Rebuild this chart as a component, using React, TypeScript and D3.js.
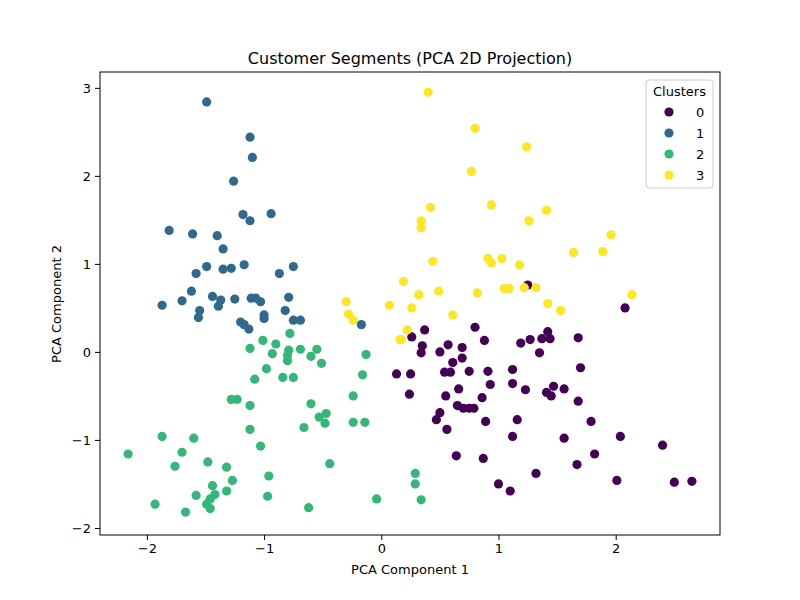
import * as d3 from "d3";
import { useEffect, useRef } from "react";

// [pc1, pc2] per cluster
const cluster0 = [
  [2.08, 0.5], [0.37, 0.25], [0.26, 0.17], [0.8, 0.28], [0.88, 0.13], [0.35, 0.07], [0.34, -0.01],
  [0.57, 0.08], [0.69, 0.05], [0.5, 0.0], [0.69, -0.07], [0.61, -0.12], [1.42, 0.23], [1.37, 0.15],
  [1.44, 0.15], [1.27, 0.14], [1.19, 0.1], [1.35, -0.01], [1.68, 0.16], [1.7, -0.18], [0.13, -0.25],
  [0.25, -0.25], [0.54, -0.23], [0.59, -0.23], [0.75, -0.22], [0.91, -0.22], [1.12, -0.2], [1.12, -0.36],
  [0.93, -0.37], [0.66, -0.42], [1.23, -0.43], [1.47, -0.39], [1.41, -0.46], [1.45, -0.5], [1.56, -0.42],
  [0.24, -0.48], [0.55, -0.5], [0.86, -0.52], [1.68, -0.56], [0.65, -0.61], [0.7, -0.64], [0.75, -0.64],
  [0.79, -0.64], [0.5, -0.69], [0.47, -0.77], [0.56, -0.88], [0.89, -0.79], [1.16, -0.77], [1.79, -0.79],
  [1.12, -0.96], [1.56, -0.98], [2.04, -0.96], [2.4, -1.06], [0.64, -1.18], [0.87, -1.21], [1.82, -1.16],
  [1.67, -1.28], [1.32, -1.38], [1.0, -1.5], [1.1, -1.58], [2.01, -1.46], [2.5, -1.48], [2.65, -1.47],
  [1.25, 0.76],
];
const cluster1 = [
  [-1.49, 2.84], [-1.12, 2.44], [-1.1, 2.21], [-1.26, 1.94], [-1.18, 1.56], [-1.12, 1.49], [-0.94, 1.57],
  [-1.81, 1.38], [-1.61, 1.34], [-1.4, 1.32], [-1.35, 1.17], [-1.49, 0.97], [-1.58, 0.89], [-1.35, 0.94],
  [-1.28, 0.95], [-1.17, 0.99], [-0.87, 0.89], [-0.75, 0.97], [-1.62, 0.69], [-1.7, 0.58], [-1.87, 0.53],
  [-1.44, 0.63], [-1.37, 0.59], [-1.25, 0.6], [-1.11, 0.61], [-1.07, 0.61], [-1.03, 0.57], [-0.79, 0.62],
  [-1.55, 0.47], [-1.56, 0.39], [-1.39, 0.52], [-1.0, 0.42], [-1.0, 0.38], [-0.82, 0.47], [-1.2, 0.34],
  [-1.17, 0.31], [-1.13, 0.26], [-0.75, 0.36], [-0.69, 0.36], [-0.17, 0.31],
];
const cluster2 = [
  [-0.78, 0.21], [-1.01, 0.13], [-0.9, 0.09], [-1.12, 0.04], [-0.93, -0.02], [-0.79, 0.02], [-0.8, -0.04],
  [-0.8, -0.1], [-0.69, 0.03], [-0.55, 0.03], [-0.6, -0.05], [-0.51, -0.13], [-0.13, -0.03], [-0.98, -0.19],
  [-1.08, -0.31], [-0.84, -0.29], [-0.75, -0.29], [-0.16, -0.26], [-0.24, -0.5], [-1.28, -0.54], [-1.23, -0.54],
  [-1.12, -0.61], [-0.6, -0.59], [-0.47, -0.7], [-0.53, -0.74], [-0.48, -0.81], [-0.66, -0.86], [-0.24, -0.8],
  [-0.14, -0.8], [-1.12, -0.88], [-1.03, -1.07], [-1.87, -0.96], [-1.6, -0.98], [-2.16, -1.16], [-1.7, -1.14],
  [-1.76, -1.3], [-1.48, -1.25], [-1.32, -1.31], [-0.44, -1.27], [-0.96, -1.41], [-1.27, -1.46], [-1.44, -1.52],
  [-1.32, -1.58], [-1.58, -1.63], [-1.42, -1.62], [-1.46, -1.67], [-1.49, -1.73], [-1.46, -1.78], [-0.97, -1.64],
  [-1.93, -1.73], [-1.67, -1.82], [-0.62, -1.77], [-0.04, -1.67], [0.29, -1.38], [0.29, -1.5], [0.34, -1.68],
];
const cluster3 = [
  [0.4, 2.95], [0.8, 2.54], [1.24, 2.33], [0.77, 2.05], [0.42, 1.64], [0.94, 1.67], [1.41, 1.61], [0.34, 1.49],
  [0.34, 1.41], [1.26, 1.49], [1.96, 1.33], [1.64, 1.13], [1.89, 1.14], [0.44, 1.03], [0.91, 1.06], [0.94, 1.01],
  [1.03, 1.06], [1.18, 0.99], [0.19, 0.8], [0.32, 0.65], [0.49, 0.69], [0.82, 0.67], [1.05, 0.72], [1.09, 0.72],
  [1.22, 0.73], [1.32, 0.73], [2.14, 0.65], [0.07, 0.53], [0.26, 0.5], [0.61, 0.42], [1.42, 0.55], [1.53, 0.47],
  [-0.3, 0.57], [-0.28, 0.43], [-0.24, 0.36], [0.16, 0.14], [0.22, 0.25], [0.17, 0.14],
];
const clusterLabels = ["0", "1", "2", "3"];
const clusterColors = ["#440154", "#31688e", "#35b779", "#fde725"];
const xTicks = [-2, -1, 0, 1, 2];
const yTicks = [-2, -1, 0, 1, 2, 3];

export default function App() {
  const ref = useRef<SVGSVGElement>(null);

  useEffect(() => {
    const svg = d3.select(ref.current);
    svg.selectAll("*").remove();
    const m = { left: 100, right: 720, top: 72, bottom: 535 };
    const x = d3.scaleLinear().domain([-2.4, 2.89]).range([m.left, m.right]);
    const y = d3.scaleLinear().domain([-2.08, 3.18]).range([m.bottom, m.top]);
    const font = "DejaVu Sans, sans-serif";

    svg.append("g").attr("transform", `translate(0,${m.bottom})`)
      .call(d3.axisBottom(x).tickValues(xTicks).tickSize(5).tickPadding(4).tickFormat(d3.format("d")))
      .call((g) => g.select(".domain").remove())
      .selectAll("text").attr("font-size", 13).attr("font-family", font).attr("fill", "#000");
    svg.append("g").attr("transform", `translate(${m.left},0)`)
      .call(d3.axisLeft(y).tickValues(yTicks).tickSize(5).tickPadding(4).tickFormat(d3.format("d")))
      .call((g) => g.select(".domain").remove())
      .selectAll("text").attr("font-size", 13).attr("font-family", font).attr("fill", "#000");
    svg.selectAll(".tick text").text((d: any) => String(d).replace("-", "\u2212"));

    const all = [cluster0, cluster1, cluster2, cluster3];
    all.forEach((pts, i) => {
      svg.append("g").selectAll("circle").data(pts).enter().append("circle")
        .attr("cx", (d) => x(d[0])).attr("cy", (d) => y(d[1])).attr("r", 4.6)
        .attr("fill", clusterColors[i]);
    });

    svg.append("rect").attr("x", m.left).attr("y", m.top)
      .attr("width", m.right - m.left).attr("height", m.bottom - m.top)
      .attr("fill", "none").attr("stroke", "#000").attr("stroke-width", 1);

    svg.append("text").attr("x", 410).attr("y", 64).attr("text-anchor", "middle")
      .attr("font-size", 16).attr("font-family", font).text("Customer Segments (PCA 2D Projection)");
    svg.append("text").attr("x", 410).attr("y", 574).attr("text-anchor", "middle")
      .attr("font-size", 13).attr("font-family", font).text("PCA Component 1");
    svg.append("text").attr("transform", "translate(61,304) rotate(-90)").attr("text-anchor", "middle")
      .attr("font-size", 13).attr("font-family", font).text("PCA Component 2");

    const lg = svg.append("g").attr("transform", "translate(646,80)");
    lg.append("rect").attr("width", 67).attr("height", 108).attr("rx", 3)
      .attr("fill", "#fff").attr("fill-opacity", 0.8).attr("stroke", "#ccc");
    lg.append("text").attr("x", 33.5).attr("y", 16).attr("text-anchor", "middle")
      .attr("font-size", 13).attr("font-family", font).text("Clusters");
    clusterLabels.forEach((lab, i) => {
      lg.append("circle").attr("cx", 23).attr("cy", 32 + i * 21).attr("r", 4.6).attr("fill", clusterColors[i]);
      lg.append("text").attr("x", 50).attr("y", 37 + i * 21).attr("font-size", 13)
        .attr("font-family", font).text(lab);
    });
  }, []);

  return <svg ref={ref} width={800} height={600} style={{ position: "absolute", left: 0, top: 0, background: "#fff" }} />;
}
